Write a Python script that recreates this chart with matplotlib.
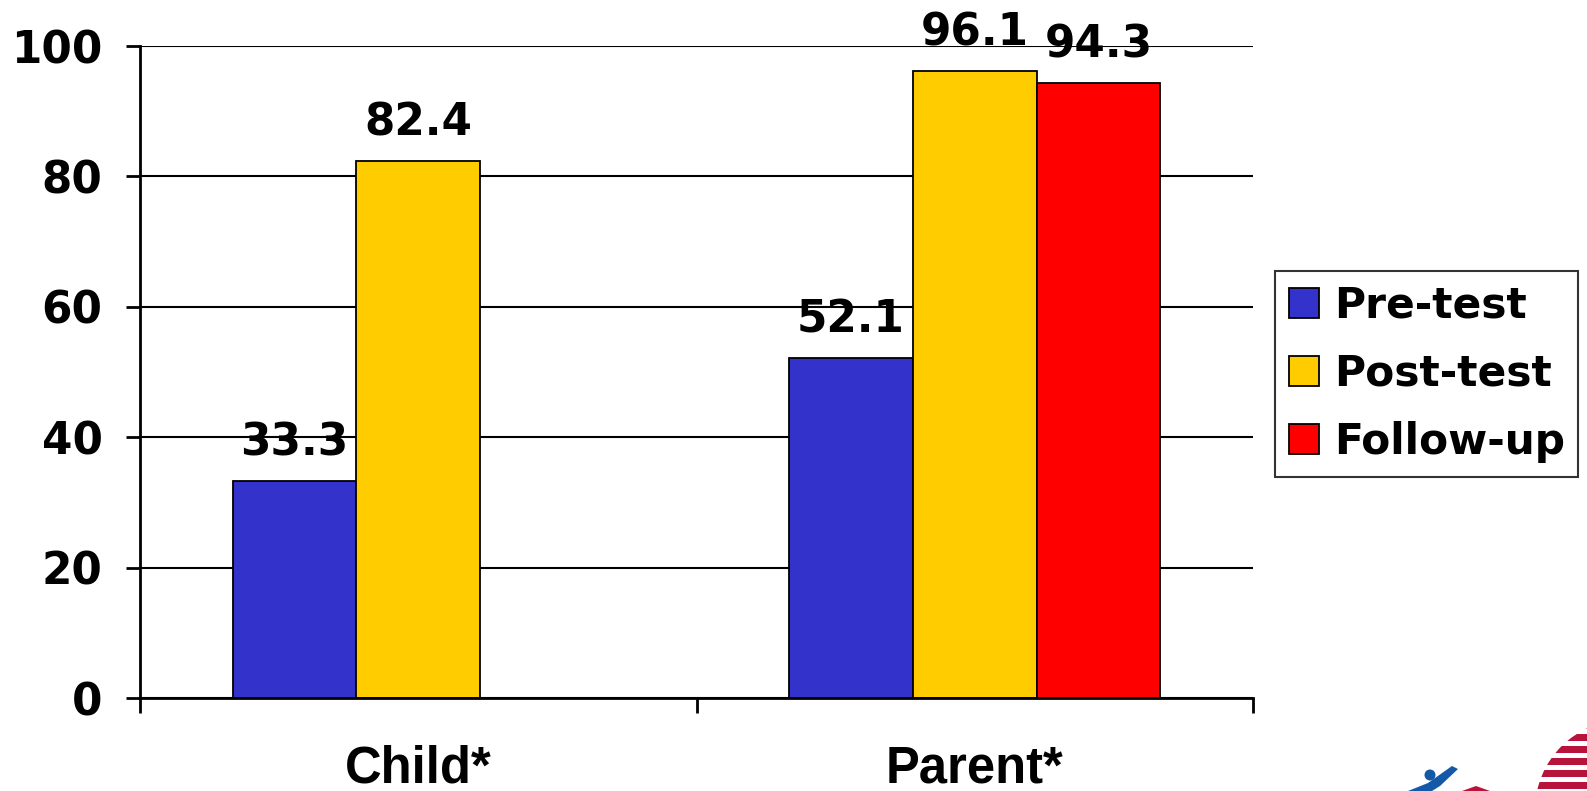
import numpy as np
import matplotlib
matplotlib.use("Agg")
import matplotlib.pyplot as plt
from matplotlib.patches import Rectangle, Circle, Polygon

categories = ["Child*", "Parent*"]
series_names = ["Pre-test", "Post-test", "Follow-up"]
pre_test = [33.3, 52.1]
post_test = [82.4, 96.1]
follow_up = [np.nan, 94.3]
colors = ["#3333CC", "#FFCC00", "#FF0000"]
yticks = [0, 20, 40, 60, 80, 100]

W, H = 1587, 791
fig = plt.figure(figsize=(W / 100, H / 100), dpi=100)
fig.patch.set_facecolor("white")

def px(x0, y0, x1, y1):
    return [x0 / W, 1 - y1 / H, (x1 - x0) / W, (y1 - y0) / H]

ax = fig.add_axes(px(140, 46, 1253, 698))

num_font = dict(family="DejaVu Sans", weight="bold", size=31.5)
cat_font = dict(family="Liberation Sans", weight="bold", size=36.5)

width = 0.2225
x = np.arange(len(categories))
all_series = [pre_test, post_test, follow_up]
for i, (vals, name, col) in enumerate(zip(all_series, series_names, colors)):
    offs = (i - 1) * width
    vals = np.asarray(vals, dtype=float)
    ok = ~np.isnan(vals)
    ax.bar(x[ok] + offs, vals[ok], width=width, color=col, edgecolor="black",
           linewidth=1.3, label=name, zorder=3)
    for xi, v in zip(x[ok] + offs, vals[ok]):
        ax.annotate(f"{v:.1f}", (xi, v), xytext=(0, 12), textcoords="offset points",
                    ha="center", va="bottom", zorder=4, **num_font)

ax.set_xlim(-0.5, 1.5)
ax.set_ylim(0, 100)
ax.set_yticks(yticks)
ax.set_yticklabels([str(t) for t in yticks], fontdict=num_font)
ax.yaxis.grid(True, color="black", linewidth=1.5, zorder=0)
ax.set_axisbelow(True)

ax.set_xticks([-0.5, 0.5, 1.5])
ax.set_xticklabels([])
ax.tick_params(axis="x", direction="out", length=11, width=2, color="black")
ax.tick_params(axis="y", direction="out", length=10, width=2, color="black", pad=17)

for s in ["top", "right"]:
    ax.spines[s].set_visible(False)
for s in ["left", "bottom"]:
    ax.spines[s].set_linewidth(2)
    ax.spines[s].set_zorder(5)

trans = ax.get_xaxis_transform()
for xi, c in zip(x, categories):
    ax.text(xi, -(769 - 698) / (698 - 46), c, transform=trans, ha="center", va="center",
            **cat_font)

handles = [Rectangle((0, 0), 1, 1, facecolor=c, edgecolor="black", linewidth=1.3)
           for c in colors]
leg = fig.legend(handles, series_names, loc="upper left",
                 bbox_to_anchor=(1275 / W, 1 - 271 / H),
                 prop=dict(family="DejaVu Sans", weight="bold", size=30.5),
                 frameon=True, fancybox=False, edgecolor="black",
                 handlelength=0.72, handleheight=0.72, handletextpad=0.35,
                 labelspacing=0.62, borderpad=0.32, borderaxespad=0)
leg.get_frame().set_linewidth(1.5)

# Logo in the lower right corner
logo = fig.add_axes([0, 0, 1, 1], zorder=-1)
logo.set_xlim(0, W)
logo.set_ylim(H, 0)
logo.axis("off")
clip = Circle((1625, 810), 90, transform=logo.transData)
for k in range(12):
    y0 = 722 + k * 12
    r = Rectangle((1500, y0), 120, 6.5, facecolor="#B8133A", edgecolor="none")
    logo.add_patch(r)
    r.set_clip_path(clip)
logo.add_patch(Circle((1430, 775), 5.5, facecolor="#1458A8", edgecolor="none"))
logo.add_patch(Polygon([[1408, 791], [1428, 783], [1452, 766], [1458, 769],
                        [1440, 786], [1432, 791]],
                       facecolor="#1458A8", edgecolor="none"))
logo.add_patch(Polygon([[1462, 791], [1476, 786], [1490, 791]],
                       facecolor="#B8133A", edgecolor="none"))

fig.savefig("out.png", dpi=100, facecolor="white")
